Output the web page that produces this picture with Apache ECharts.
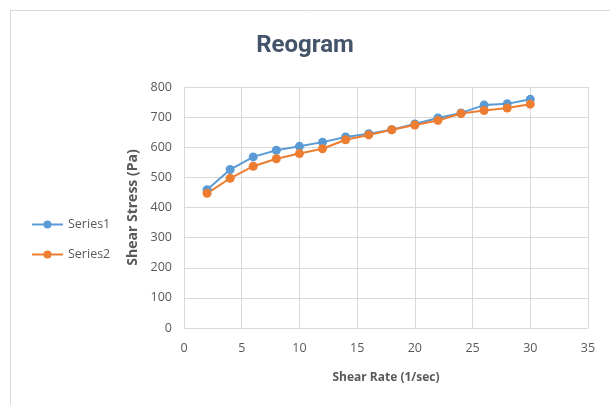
<!DOCTYPE html>
<html><head><meta charset="utf-8">
<script src="https://cdn.jsdelivr.net/npm/echarts@6/dist/echarts.min.js"></script>
<style>html,body{margin:0;padding:0;background:#fff}#c{width:610px;height:405px}</style>
</head><body><div id="c"></div>
<script>
var shearRate = [2,4,6,8,10,12,14,16,18,20,22,24,26,28,30];
var series1 = [459,526,568,590,603,617,634,645,658,677,697,714,740,744,759];
var series2 = [447,497,537,562,579,595,625,641,658,674,689,712,722,730,743];
var seriesNames = ['Series1','Series2'];
var colors = ['#5B9BD5','#ED7D31'];
var font = 'Open Sans';
function pairs(v){ return shearRate.map(function(x,i){ return [x, v[i]]; }); }
var chart = echarts.init(document.getElementById('c'));
chart.setOption({
  animation:false,
  color: colors,
  graphic:[{type:'rect',shape:{x:10.5,y:10.5,width:640,height:420},style:{fill:'none',stroke:'#D9D9D9',lineWidth:1}}],
  title:{text:'Reogram',left:'center',top:29,textStyle:{fontFamily:'Roboto',fontSize:24,fontWeight:'bold',color:'#44546A'}},
  legend:{orient:'vertical',left:26,top:213,itemGap:17,itemWidth:31,itemHeight:10,
    textStyle:{fontFamily:font,fontSize:12.5,color:'#595959'},data:seriesNames},
  grid:{left:184,right:22,top:87,bottom:77},
  xAxis:{type:'value',min:0,max:35,interval:5,name:'Shear Rate (1/sec)',nameLocation:'middle',nameGap:44,
    nameTextStyle:{fontFamily:font,fontSize:12,fontWeight:'bold',color:'#595959'},
    axisLine:{show:true,lineStyle:{color:'#D9D9D9'}},axisTick:{show:false},
    axisLabel:{fontFamily:font,fontSize:12.5,color:'#595959',margin:14},
    splitLine:{show:true,lineStyle:{color:'#D9D9D9'}}},
  yAxis:{type:'value',min:0,max:800,interval:100,name:'Shear Stress (Pa)',nameLocation:'middle',nameGap:34,
    nameTextStyle:{fontFamily:font,fontSize:14,fontWeight:'bold',color:'#595959'},
    axisLine:{show:true,lineStyle:{color:'#D9D9D9'}},axisTick:{show:false},
    axisLabel:{fontFamily:font,fontSize:12.5,color:'#595959',margin:12},
    splitLine:{show:true,lineStyle:{color:'#D9D9D9'}}},
  series:[
    {name:seriesNames[0],type:'line',data:pairs(series1),symbol:'circle',symbolSize:9,lineStyle:{width:2},itemStyle:{color:colors[0]}},
    {name:seriesNames[1],type:'line',data:pairs(series2),symbol:'circle',symbolSize:9,lineStyle:{width:2},itemStyle:{color:colors[1]}}
  ]
});
</script></body></html>
